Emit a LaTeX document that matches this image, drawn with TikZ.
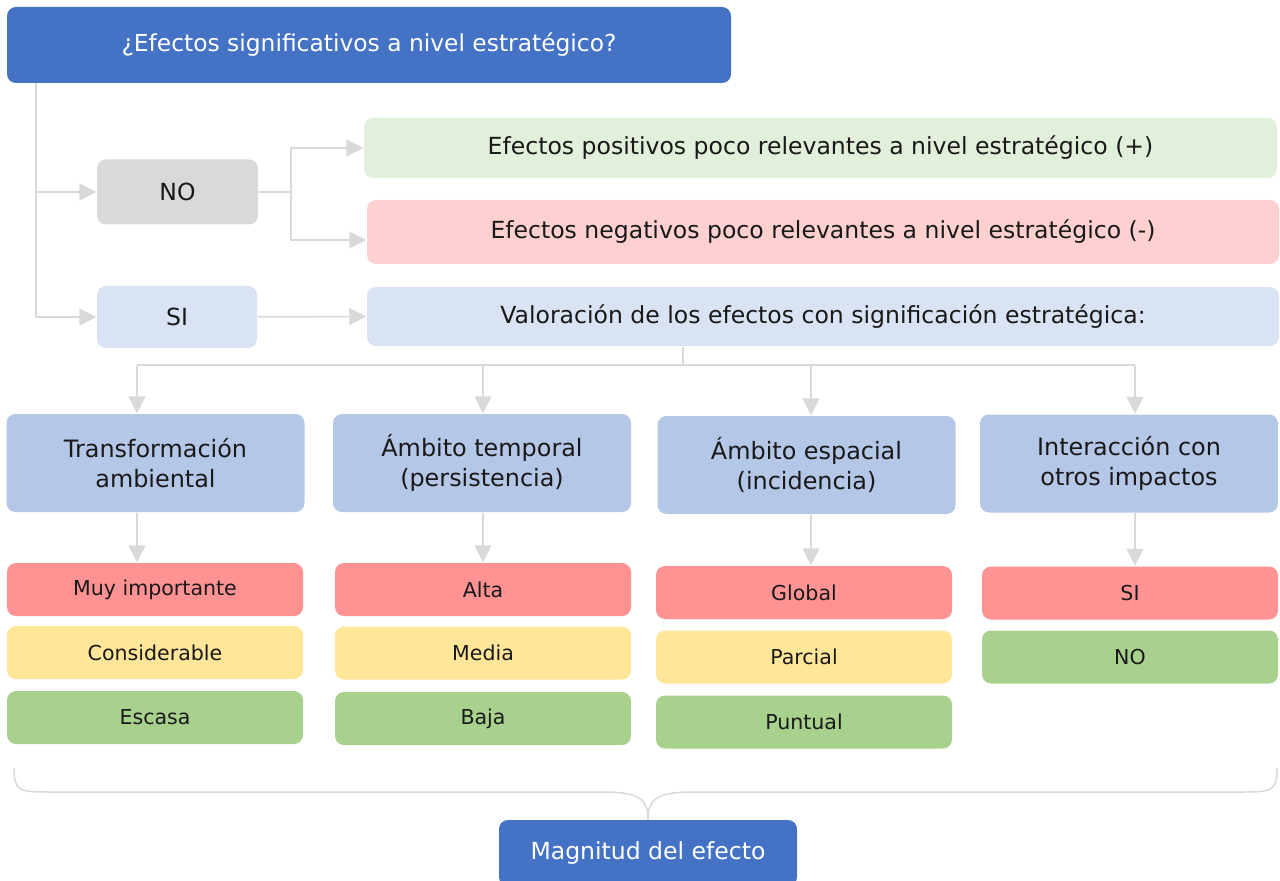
\documentclass[tikz,border=0pt]{standalone}
\usepackage{fontspec}
\setmainfont{DejaVu Sans}
\usetikzlibrary{arrows.meta}
\definecolor{azul}{HTML}{4472C4}
\definecolor{gris}{HTML}{D9D9D9}
\definecolor{celeste}{HTML}{DAE3F3}
\definecolor{verdeclaro}{HTML}{E2EFDA}
\definecolor{rosa}{HTML}{FFD0D0}
\definecolor{categ}{HTML}{B4C7E7}
\definecolor{rojo}{HTML}{FF9393}
\definecolor{amarillo}{HTML}{FFE699}
\definecolor{verde}{HTML}{A9D18E}
\definecolor{linea}{HTML}{D9D9D9}

\begin{document}
\begin{tikzpicture}[x=0.02cm,y=-0.02cm,line width=0.85pt,
  box/.style={rounded corners=0.18cm,inner sep=0pt,align=center,text=black!90,
              font=\fontsize{13.4}{16}\selectfont},
  sz/.style 2 args={minimum width=#1*0.02cm,minimum height=#2*0.02cm},
  ln/.style={draw=linea,line width=0.85pt},
  arr/.style={ln,-{Triangle[length=0.34cm,width=0.34cm]}}]
\useasboundingbox (0,0) rectangle (1280,881);
% ---------- 上部：问题与 NO / SI ----------
\node[box,fill=azul,text=white,font=\fontsize{13.3}{16}\selectfont,sz={724}{76}] (top) at (369,45)
  {¿Efectos significativos a nivel estratégico?};
\node[box,fill=gris,sz={161}{65}] (no) at (177.5,192) {NO};
\node[box,fill=celeste,sz={160}{62}] (si) at (177,317) {SI};
\node[box,fill=verdeclaro,sz={913}{60}] (pos) at (820.5,148)
  {Efectos positivos poco relevantes a nivel estratégico (+)};
\node[box,fill=rosa,sz={912}{64}] (neg) at (823,232)
  {Efectos negativos poco relevantes a nivel estratégico (-)};
\node[box,fill=celeste,sz={912}{59}] (val) at (823,316.5)
  {Valoración de los efectos con significación estratégica:};
% 主干与分支
\coordinate (trunk) at (36,83);
\draw[ln] (trunk) -- (trunk |- si.west);
\draw[arr] (trunk |- no.west) -- (no.west);
\draw[arr] (trunk |- si.west) -- (si.west);
\coordinate (nosplit) at (291,192);
\draw[ln] (no.east) -- (nosplit);
\draw[arr] (nosplit) |- (pos.west);
\draw[arr] (nosplit) |- ([yshift=-0.16cm]neg.west);
\draw[arr] (si.east) -- (val.west);
% ---------- 中部：四个准则 ----------
\foreach \n/\x/\y/\t in {c1/155.5/463/{Transformación\\ambiental},
                         c2/482/463/{Ámbito temporal\\(persistencia)},
                         c3/806.5/465/{Ámbito espacial\\(incidencia)},
                         c4/1129/463.5/{Interacción con\\otros impactos}}
  \node[box,fill=categ,font=\fontsize{13.6}{17}\selectfont,sz={298}{98}] (\n) at (\x,\y) {\t};
\coordinate (vsplit) at (683,365);
\draw[ln] (val.south -| vsplit) -- (vsplit);
\draw[ln] (137,365) -- (1135,365);
\foreach \i/\x in {1/137,2/483,3/811,4/1135}{
  \coordinate (a\i) at (\x,365);
  \draw[arr] (a\i) -- (a\i |- c\i.north);
}
% ---------- 下部：等级 ----------
\foreach \n/\x/\y/\c/\t in {m1/155/589.5/rojo/Muy importante,
                            m2/155/652.5/amarillo/Considerable,
                            m3/155/717.5/verde/Escasa,
                            n1/483/589.5/rojo/Alta,
                            n2/483/653/amarillo/Media,
                            n3/483/718.5/verde/Baja,
                            p1/804/592.5/rojo/Global,
                            p2/804/657/amarillo/Parcial,
                            p3/804/722/verde/Puntual,
                            q1/1130/593/rojo/SI,
                            q2/1130/657/verde/NO}
  \node[box,fill=\c,font=\fontsize{11.7}{14}\selectfont,sz={296}{53}] (\n) at (\x,\y) {\t};
\draw[arr] (c1.south -| a1) -- (a1 |- m1.north);
\draw[arr] (c2.south -| a2) -- (a2 |- n1.north);
\draw[arr] (c3.south -| a3) -- (a3 |- p1.north);
\draw[arr] (c4.south -| a4) -- (a4 |- q1.north);
% ---------- 大括号与结论 ----------
\node[box,fill=azul,text=white,sz={298}{66}] (mag) at (648,853) {Magnitud del efecto};
\draw[ln] (14,768) .. controls (14,792) and (20,792) .. (52,792) -- (604,792)
  .. controls (640,792) and (648,800) .. (mag.north);
\draw[ln] (1277,768) .. controls (1277,792) and (1271,792) .. (1240,792) -- (692,792)
  .. controls (656,792) and (648,800) .. (mag.north);
\end{tikzpicture}
\end{document}
